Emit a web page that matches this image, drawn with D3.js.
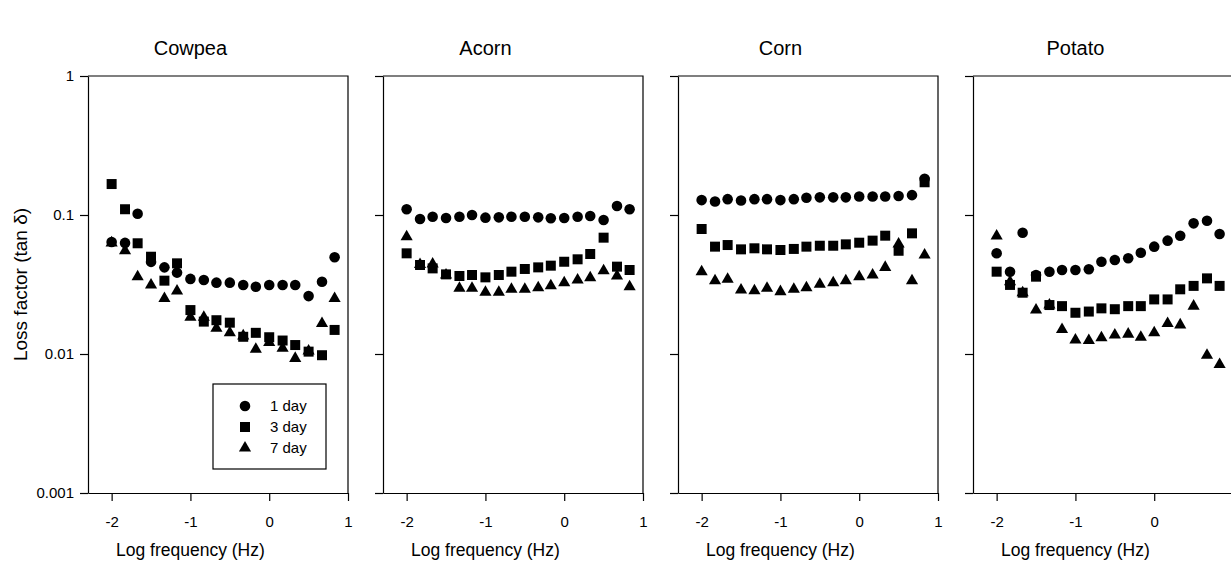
<!DOCTYPE html>
<head>
  <meta charset="utf-8">
  <script src="https://cdn.jsdelivr.net/npm/d3@7"></script>
  <style>
    body { margin: 0; background: #fff; }
    text { font-family: "Liberation Sans", Arial, sans-serif; fill: #000; }
  </style>
</head>
<body>
<div id="container"></div>
<script>
  // chart data
  const crops = ["Cowpea", "Acorn", "Corn", "Potato"];
  const storage = ["1 day", "3 day", "7 day"];
  const logFreq = [-2, -1.83, -1.67, -1.5, -1.33, -1.17, -1, -0.83, -0.67, -0.5,
                   -0.33, -0.17, 0, 0.17, 0.33, 0.5, 0.67, 0.83];
  const yTicks = [1, 0.1, 0.01, 0.001];
  const yTickLabels = ["1", "0.1", "0.01", "0.001"];
  const xTicks = [-2, -1, 0, 1];
  const xTickLabels = ["-2", "-1", "0", "1"];

  const cowpea1 = [0.064, 0.063, 0.102, 0.046, 0.042, 0.0385, 0.0347, 0.0341, 0.0326, 0.0326, 0.0314, 0.0305, 0.0314, 0.0314, 0.0314, 0.0261, 0.0331, 0.0496];
  const cowpea3 = [0.167, 0.110, 0.0626, 0.0501, 0.0337, 0.0449, 0.0207, 0.0171, 0.0175, 0.0168, 0.0133, 0.0142, 0.0132, 0.0125, 0.0116, 0.0104, 0.0098, 0.0149];
  const cowpea7 = [0.063, 0.0553, 0.036, 0.0314, 0.0251, 0.0284, 0.0184, 0.0184, 0.0153, 0.0142, 0.0135, 0.0108, 0.0121, 0.011, 0.0093, 0.0105, 0.0166, 0.0251];

  const acorn1 = [0.110, 0.0936, 0.0972, 0.0951, 0.0972, 0.100, 0.0957, 0.0962, 0.0972, 0.0972, 0.0962, 0.0947, 0.0951, 0.0972, 0.0984, 0.0921, 0.116, 0.110];
  const acorn3 = [0.053, 0.0437, 0.0413, 0.0374, 0.0364, 0.037, 0.0356, 0.037, 0.0391, 0.0409, 0.042, 0.0432, 0.0461, 0.048, 0.0524, 0.0687, 0.0425, 0.0402];
  const acorn7 = [0.0698, 0.044, 0.0444, 0.037, 0.0297, 0.0297, 0.0278, 0.0278, 0.0292, 0.0292, 0.030, 0.031, 0.0326, 0.0341, 0.0354, 0.0397, 0.0364, 0.0305];

  const corn1 = [0.128, 0.125, 0.130, 0.127, 0.130, 0.130, 0.128, 0.130, 0.133, 0.134, 0.134, 0.134, 0.136, 0.136, 0.136, 0.137, 0.139, 0.182];
  const corn3 = [0.0793, 0.0592, 0.0608, 0.0566, 0.0576, 0.0566, 0.056, 0.057, 0.0592, 0.0601, 0.0601, 0.0615, 0.0632, 0.0654, 0.071, 0.0553, 0.0738, 0.172];
  const corn7 = [0.0391, 0.0337, 0.0345, 0.0289, 0.0285, 0.0297, 0.0281, 0.0292, 0.030, 0.0317, 0.0326, 0.0337, 0.036, 0.037, 0.042, 0.0618, 0.0337, 0.0515];

  const potato1 = [0.053, 0.0391, 0.0746, 0.037, 0.0391, 0.0402, 0.0402, 0.0407, 0.0461, 0.0475, 0.0488, 0.0535, 0.0592, 0.0654, 0.071, 0.0871, 0.091, 0.073];
  const potato3 = [0.0391, 0.0314, 0.0276, 0.036, 0.0225, 0.0221, 0.0198, 0.0202, 0.0213, 0.021, 0.0221, 0.0221, 0.0247, 0.0247, 0.0292, 0.0309, 0.035, 0.0309];
  const potato7 = [0.0706, 0.0331, 0.0276, 0.0207, 0.0225, 0.015, 0.0126, 0.0125, 0.0131, 0.0137, 0.0139, 0.0132, 0.0142, 0.0166, 0.0162, 0.0221, 0.0098, 0.0084];

  const cropSeries = [
    [cowpea1, cowpea3, cowpea7],
    [acorn1, acorn3, acorn7],
    [corn1, corn3, corn7],
    [potato1, potato3, potato7]
  ];

  // layout
  const width = 1231, height = 564;
  const panelLeft = 88, panelStep = 295, panelW = 260;
  const plotTop = 76, plotBottom = 493;
  const plotH = plotBottom - plotTop;

  const markers = [
    d3.symbol().type(d3.symbolCircle).size(88),
    d3.symbol().type(d3.symbolSquare).size(100),
    d3.symbol().type(d3.symbolTriangle).size(64)
  ];

  const svg = d3.select('#container').append('svg')
    .attr('width', width)
    .attr('height', height);

  const xScale = d3.scaleLinear().domain([-2.3, 1]).range([0, panelW]);
  const yScale = d3.scaleLog().domain([0.001, 1]).range([plotH, 0]);

  crops.forEach((crop, ci) => {
    const px = panelLeft + ci * panelStep;
    const g = svg.append('g')
      .attr('transform', `translate(${px},${plotTop})`);

    // frame (top and right)
    g.append('path')
      .attr('d', `M0,0H${panelW}V${plotH}`)
      .attr('fill', 'none')
      .attr('stroke', '#000')
      .attr('stroke-width', 1.2);

    // y axis
    const yAxis = d3.axisLeft(yScale)
      .tickValues(yTicks)
      .tickSize(8)
      .tickSizeOuter(0)
      .tickFormat((d, i) => ci === 0 ? yTickLabels[i] : '');
    const ya = g.append('g').call(yAxis);
    ya.selectAll('text').attr('font-size', 15).attr('dx', -3)
      .style('font-family', '"Liberation Sans", Arial, sans-serif');

    // x axis, ticks beyond the window keep no label
    const xAxis = d3.axisBottom(xScale)
      .tickValues(xTicks)
      .tickSize(8)
      .tickSizeOuter(0)
      .tickFormat((d, i) => px + xScale(d) + 6 > width ? '' : xTickLabels[i]);
    const xa = g.append('g')
      .attr('transform', `translate(0,${plotH})`)
      .call(xAxis);
    xa.selectAll('text').attr('font-size', 15).attr('dy', '1.5em')
      .style('font-family', '"Liberation Sans", Arial, sans-serif');

    g.selectAll('.domain').attr('stroke-width', 1.2);
    g.selectAll('.tick line').attr('stroke-width', 1.2);

    // panel title
    g.append('text')
      .attr('x', xScale(-1))
      .attr('y', 55 - plotTop)
      .attr('text-anchor', 'middle')
      .attr('font-size', 20)
      .text(crop);

    // x axis label
    g.append('text')
      .attr('x', xScale(-1))
      .attr('y', 556 - plotTop)
      .attr('text-anchor', 'middle')
      .attr('font-size', 17.5)
      .text('Log frequency (Hz)');

    // markers, 7 day drawn first so 1 day sits on top
    [2, 1, 0].forEach(si => {
      g.append('g').selectAll('path')
        .data(cropSeries[ci][si].map((v, i) => ({x: logFreq[i], y: v})))
        .enter()
        .append('path')
          .attr('d', markers[si]())
          .attr('transform', d => `translate(${xScale(d.x)},${yScale(d.y)})`)
          .attr('fill', '#000');
    });

    // legend in first panel
    if (ci === 0) {
      const lg = g.append('g').attr('transform', `translate(${213 - panelLeft},${384 - plotTop})`);
      lg.append('rect')
        .attr('width', 113).attr('height', 85)
        .attr('fill', '#fff').attr('stroke', '#000').attr('stroke-width', 1.2);
      storage.forEach((s, si) => {
        lg.append('path')
          .attr('d', markers[si]())
          .attr('transform', `translate(32,${22 + si * 21})`)
          .attr('fill', '#000');
        lg.append('text')
          .attr('x', 57).attr('y', 22 + si * 21 + 5)
          .attr('font-size', 15)
          .text(s);
      });
    }
  });

  // y axis title
  svg.append('text')
    .attr('transform', `translate(27,${(plotTop + plotBottom) / 2}) rotate(-90)`)
    .attr('text-anchor', 'middle')
    .attr('font-size', 19)
    .text('Loss factor (tan δ)');
</script>
</body>
